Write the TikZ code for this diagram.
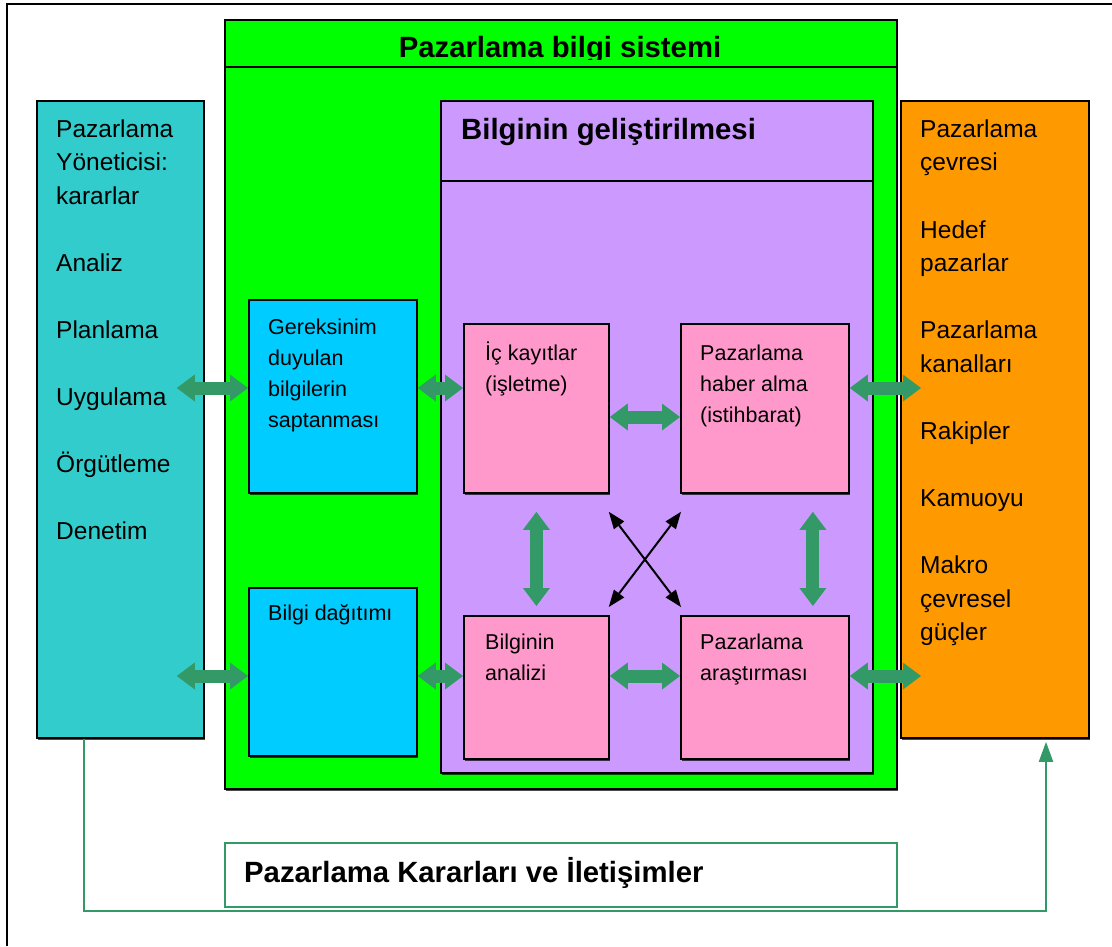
\documentclass[tikz,border=0pt]{standalone}
\usepackage{fontspec}
\setmainfont{Liberation Sans}
\usetikzlibrary{arrows.meta,shadows,calc}

\definecolor{sysgreen}{HTML}{00FF00}
\definecolor{devpurple}{HTML}{CC99FF}
\definecolor{recpink}{HTML}{FF99CC}
\definecolor{needblue}{HTML}{00CCFF}
\definecolor{mgrteal}{HTML}{33CCCC}
\definecolor{envorange}{HTML}{FF9900}
\definecolor{flowgreen}{HTML}{339966}

\tikzset{
  box/.style={draw=black, line width=1.8pt, anchor=north west, inner sep=0pt,
    drop shadow={shadow xshift=1.2pt, shadow yshift=-1.6pt, opacity=0.7, fill=black}},
  sidetxt/.style={anchor=base west, inner sep=0pt, font=\fontsize{24.5}{29}\selectfont},
  intxt/.style={anchor=base west, inner sep=0pt, font=\fontsize{21.5}{26}\selectfont},
  headtxt/.style={inner sep=0pt, font=\fontsize{29.3}{34}\selectfont\bfseries},
  flow/.style={draw=flowgreen, line width=13pt,
    {Triangle[length=18pt,width=27pt,line width=0pt]}-{Triangle[length=18pt,width=27pt,line width=0pt]}},
  cross/.style={draw=black, line width=2pt,
    {Triangle[length=17pt,width=13pt,line width=0pt]}-{Triangle[length=17pt,width=13pt,line width=0pt]}},
}

\begin{document}
\begin{tikzpicture}[x=1pt,y=-1pt]
\useasboundingbox (0,0) rectangle (1112,946);

% page frame (top and left edges)
\draw[line width=2.5pt] (7,946) -- (7,4) -- (1112,4);

% marketing information system
\node[box, fill=sysgreen, minimum width=672pt, minimum height=769pt] (sys) at (224,19) {};
\draw[line width=1.8pt] (sys.west |- 0,67) -- (sys.east |- 0,67);
\begin{scope}
  \clip (224,19) rectangle (896,59);
  \node[headtxt, anchor=base] (systitle) at (560,57) {Pazarlama bilgi sistemi};
\end{scope}

% information development block
\node[box, fill=devpurple, minimum width=432pt, minimum height=672pt] (dev) at (440,100) {};
\draw[line width=1.8pt] (dev.west |- 0,181) -- (dev.east |- 0,181);
\node[headtxt, anchor=base west] (devtitle) at (461,139) {Bilginin geliştirilmesi};

% side columns
\node[box, fill=mgrteal, minimum width=167pt, minimum height=637pt] (mgr) at (36,100) {};
\node[box, fill=envorange, minimum width=188pt, minimum height=637pt] (env) at (900,100) {};

% inner boxes
\node[box, fill=needblue, minimum width=168pt, minimum height=193pt] (need) at (248,299) {};
\node[box, fill=needblue, minimum width=168pt, minimum height=168pt] (dist) at (248,587) {};
\node[box, fill=recpink, minimum width=145pt, minimum height=169pt] (rec) at (463,323) {};
\node[box, fill=recpink, minimum width=168pt, minimum height=169pt] (intel) at (680,323) {};
\node[box, fill=recpink, minimum width=145pt, minimum height=143pt] (anl) at (463,615) {};
\node[box, fill=recpink, minimum width=168pt, minimum height=143pt] (res) at (680,615) {};

% decisions box
\node[draw=flowgreen, line width=1.8pt, fill=white, anchor=north west, inner sep=0pt,
  minimum width=672pt, minimum height=64pt] (dec) at (224,842) {};
\node[headtxt, anchor=base west] (dectxt) at (244,882) {Pazarlama Kararları ve İletişimler};

% texts of the side columns
\foreach \y/\t [count=\i] in {137/Pazarlama, 170.5/Yöneticisi:, 204/kararlar, 271/Analiz,
    338/Planlama, 405/Uygulama, 472/Örgütleme, 539/Denetim}
  \node[sidetxt] (mgrt\i) at (56,\y) {\t};
\foreach \y/\t [count=\i] in {137/Pazarlama, 170.5/çevresi, 238/Hedef, 271.5/pazarlar,
    338/Pazarlama, 372/kanalları, 439/Rakipler, 506/Kamuoyu, 573.5/Makro, 607/çevresel, 640/güçler}
  \node[sidetxt] (envt\i) at (920,\y) {\t};

% texts of the inner boxes
\foreach \y/\t [count=\i] in {334/Gereksinim, 365/duyulan, 396.5/bilgilerin, 427.5/saptanması}
  \node[intxt] (needt\i) at (268,\y) {\t};
\node[intxt] (distt) at (268,620) {Bilgi dağıtımı};
\node[intxt] (rect1) at (485,360) {İç kayıtlar};
\node[intxt] (rect2) at (485,391) {(işletme)};
\foreach \y/\t [count=\i] in {360/Pazarlama, 391/haber alma, 422/(istihbarat)}
  \node[intxt] (intelt\i) at (700,\y) {\t};
\node[intxt] (anlt1) at (485,649) {Bilginin};
\node[intxt] (anlt2) at (485,680) {analizi};
\node[intxt] (rest1) at (700,649) {Pazarlama};
\node[intxt] (rest2) at (700,680) {araştırması};

% rows of the horizontal flows
\coordinate (rowA) at (0,388);
\coordinate (rowB) at (0,417);
\coordinate (rowC) at (0,676);

% information flows
\draw[flow] ([xshift=-28pt]mgr.east |- rowA) -- (need.west |- rowA);
\draw[flow] (need.east |- rowA) -- (rec.west |- rowA);
\draw[flow] (rec.east |- rowB) -- (intel.west |- rowB);
\draw[flow] (intel.east |- rowA) -- ([xshift=21pt]env.west |- rowA);
\draw[flow] ([xshift=-28pt]mgr.east |- rowC) -- (dist.west |- rowC);
\draw[flow] (dist.east |- rowC) -- (anl.west |- rowC);
\draw[flow] (anl.east |- rowC) -- (res.west |- rowC);
\draw[flow] (res.east |- rowC) -- ([xshift=21pt]env.west |- rowC);
\draw[flow] ([yshift=-18pt]rec.south) -- ([yshift=9pt]anl.north);
\draw[flow] ([xshift=48pt,yshift=-18pt]intel.south) -- ([xshift=48pt,yshift=9pt]res.north);

% diagonal links
\draw[cross] ([xshift=-1pt,yshift=-18pt]rec.south east) -- ([xshift=1pt,yshift=8pt]res.north west);
\draw[cross] ([xshift=1pt,yshift=-18pt]intel.south west) -- ([xshift=-1pt,yshift=8pt]anl.north east);

% feedback loop
\coordinate (loopL) at (84,911);
\coordinate (loopR) at (1046,911);
\draw[flowgreen, line width=2pt, -{Triangle[length=20pt,width=14pt]}]
  (mgr.south -| loopL) -- (loopL) -- (loopR) -- ([yshift=-3pt]env.south -| loopR);
\end{tikzpicture}
\end{document}
